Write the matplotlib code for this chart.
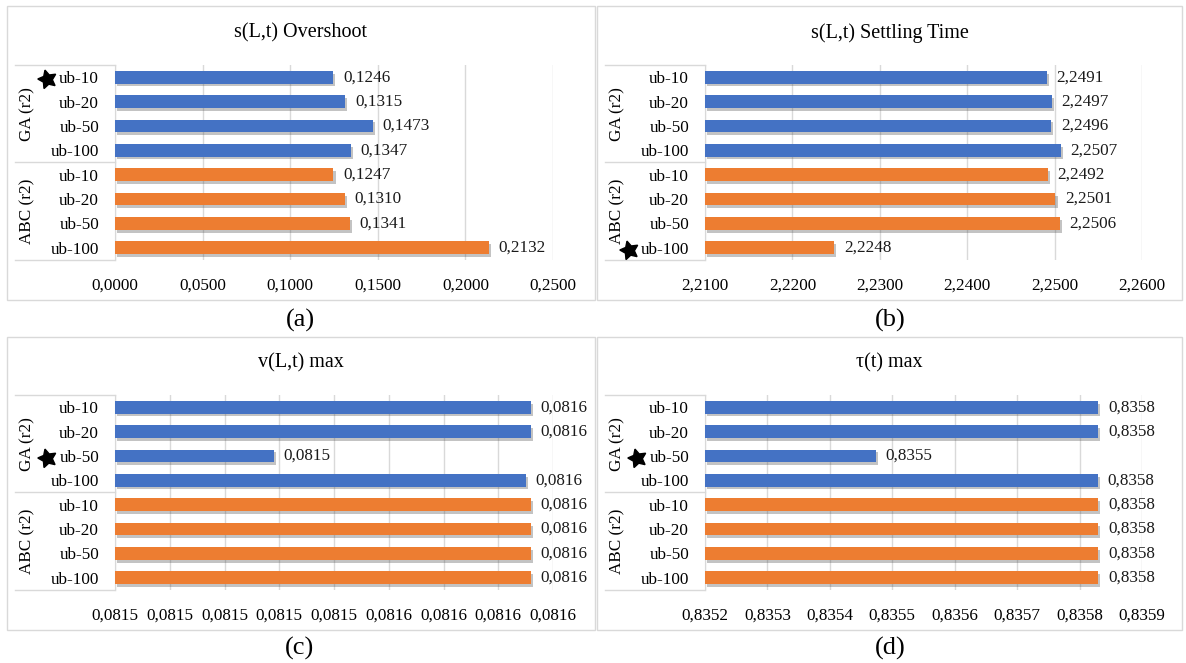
import matplotlib
matplotlib.use("Agg")
import matplotlib.pyplot as plt
import matplotlib.patheffects as pe
from matplotlib.patches import Rectangle
from matplotlib.ticker import FixedLocator, FuncFormatter
from decimal import Decimal, ROUND_HALF_UP

plt.rcParams["font.family"] = ["Liberation Serif", "DejaVu Serif"]

# ---- data -------------------------------------------------------------
groups = ["GA (r2)", "ABC (r2)"]
runs = ["ub-10", "ub-20", "ub-50", "ub-100"]

overshoot_ga = [0.1246, 0.1315, 0.1473, 0.1347]
overshoot_abc = [0.1247, 0.1310, 0.1341, 0.2132]

settling_ga = [2.2491, 2.2497, 2.2496, 2.2507]
settling_abc = [2.2492, 2.2501, 2.2506, 2.2248]

vmax_ga = [0.081576, 0.081576, 0.081529, 0.081575]
vmax_abc = [0.081576, 0.081576, 0.081576, 0.081576]

taumax_ga = [0.83583, 0.83583, 0.835474, 0.835829]
taumax_abc = [0.83583, 0.83583, 0.83583, 0.83583]

titles = ["s(L,t) Overshoot", "s(L,t) Settling Time", "v(L,t) max", "τ(t) max"]
captions = ["(a)", "(b)", "(c)", "(d)"]

x_ranges = [(0.0, 0.25, 0.05), (2.21, 2.26, 0.01),
            (0.08150, 0.08158, 0.00001), (0.8352, 0.8359, 0.0001)]

# (group index, run index) of the starred best result in each panel
best = [(0, 0), (1, 3), (0, 2), (0, 2)]

panels = [(overshoot_ga, overshoot_abc), (settling_ga, settling_abc),
          (vmax_ga, vmax_abc), (taumax_ga, taumax_abc)]

BLUE = "#4472C4"
ORANGE = "#ED7D31"
GRID = "#D9D9D9"

# ---- layout (pixels) --------------------------------------------------
W, H = 1186, 663
fig = plt.figure(figsize=(W / 100, H / 100), dpi=100)


def frac_rect(x0, y0, x1, y1):
    return [x0 / W, 1 - y1 / H, (x1 - x0) / W, (y1 - y0) / H]


boxes = [(7, 6, 595, 300), (597, 6, 1182, 300),
         (7, 337, 595, 630), (597, 337, 1182, 630)]
plots = [(115, 65, 553, 260), (705, 65, 1142, 260),
         (115, 395, 553, 590), (705, 395, 1142, 590)]
title_y = [33, 33, 363, 363]
caption_pos = [(300, 320), (890, 320), (300, 648), (890, 648)]


def fmt4(v, pos=None):
    d = Decimal(str(round(float(v), 8))).quantize(Decimal("0.0001"), rounding=ROUND_HALF_UP)
    return str(d).replace(".", ",")


labels = runs + runs
colors = [BLUE] * 4 + [ORANGE] * 4
shadow = [pe.SimplePatchShadow(offset=(1.5, -2), shadow_rgbFace="#555555", alpha=0.35),
          pe.Normal()]

axes = []
for i, (ga, abc) in enumerate(panels):
    bx0, by0, bx1, by1 = boxes[i]
    fig.add_artist(Rectangle((bx0 / W, 1 - by1 / H), (bx1 - bx0) / W, (by1 - by0) / H,
                             transform=fig.transFigure, fill=False,
                             edgecolor=GRID, linewidth=1.0))
    px0, py0, px1, py1 = plots[i]
    ax = fig.add_axes(frac_rect(px0, py0, px1, py1))
    axes.append(ax)

    values = list(ga) + list(abc)
    ypos = list(range(len(values)))
    lo, hi, step = x_ranges[i]
    bars = ax.barh(ypos, [v - lo for v in values], left=lo, height=0.52,
                   color=colors, zorder=3)
    for b in bars:
        b.set_path_effects(shadow)

    ax.set_xlim(lo, hi)
    ax.set_ylim(len(values) - 0.5, -0.5)
    nt = int(round((hi - lo) / step)) + 1
    ticks = [lo + k * step for k in range(nt)]
    ax.xaxis.set_major_locator(FixedLocator(ticks))
    ax.xaxis.set_major_formatter(FuncFormatter(fmt4))
    ax.set_yticks(ypos)
    ax.set_yticklabels(labels)
    ax.tick_params(axis="both", length=0, labelsize=12.3)
    ax.tick_params(axis="y", pad=11.5)
    ax.tick_params(axis="x", pad=13)
    ax.grid(axis="x", color=GRID, linewidth=1.0, zorder=0)
    for s in ["top", "right", "bottom"]:
        ax.spines[s].set_visible(False)
    ax.spines["left"].set_color(GRID)
    ax.set_facecolor("none")

    # value labels at the bar ends
    for y, v in zip(ypos, values):
        ax.annotate(fmt4(v), xy=(v, y), xytext=(7, 0), textcoords="offset points",
                    ha="left", va="center", fontsize=12.3, color="#1a1a1a")

    # multi-level category frame and group names
    ytr = ax.get_yaxis_transform()
    xl = -(px0 - (bx0 + 8)) / (px1 - px0)
    for yl in (-0.5, 3.5, 7.5):
        ax.plot([xl, 0], [yl, yl], transform=ytr, color=GRID, lw=1.0, clip_on=False)
    xg = -(px0 - (bx0 + 20)) / (px1 - px0)
    for g, name in enumerate(groups):
        ax.text(xg, 1.5 + 4 * g, name, transform=ytr, rotation=90,
                ha="center", va="center", fontsize=12.3)

    fig.text((bx0 + bx1) / 2 / W, 1 - title_y[i] / H, titles[i],
             ha="center", va="center", fontsize=14.5)
    cx, cy = caption_pos[i]
    fig.text(cx / W, 1 - cy / H, captions[i], ha="center", va="center", fontsize=19)

# star markers just left of the best run's category label
fig.canvas.draw()
renderer = fig.canvas.get_renderer()
for i, ax in enumerate(axes):
    g, r = best[i]
    row = 4 * g + r
    tl = ax.get_yticklabels()[row]
    bb = tl.get_window_extent(renderer)
    inv = fig.transFigure.inverted()
    xs, ys = inv.transform((bb.x0 - 12, (bb.y0 + bb.y1) / 2))
    fig.lines.append(plt.Line2D([xs], [ys], transform=fig.transFigure, marker=(5, 1, 15),
                                markersize=14, color="black", linestyle="none"))

fig.savefig("out.png", dpi=100)
